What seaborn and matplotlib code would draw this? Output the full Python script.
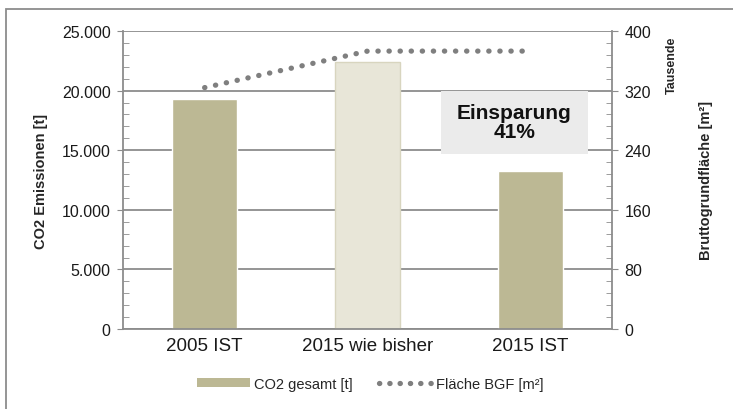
import matplotlib
matplotlib.use('Agg')
import matplotlib.pyplot as plt
import matplotlib.ticker as mticker
from matplotlib.patches import Patch, Rectangle
from matplotlib.lines import Line2D
import seaborn as sns
import pandas as pd

# values
categories = ['2005 IST', '2015 wie bisher', '2015 IST']
co2_total = [19300, 22400, 13250]          # t
bgf_area = [324, 373, 373]                 # Tausende m²
bar_colors = ['#bcb894', '#e8e6d8', '#bcb894']

sns.set_style('white')
plt.rcParams['font.family'] = ['Liberation Sans', 'DejaVu Sans']

df = pd.DataFrame({'Kategorie': categories, 'CO2': co2_total, 'BGF': bgf_area})

fig = plt.figure(figsize=(7.33, 4.10), dpi=100)
ax = fig.add_axes([0.168, 0.195, 0.667, 0.727])

sns.barplot(data=df, x='Kategorie', y='CO2', hue='Kategorie', palette=bar_colors,
            saturation=1, legend=False, width=0.4, ax=ax, zorder=2)
# light edge on the middle bar
ax.patches[1].set_edgecolor('#d8d5bf')
ax.patches[1].set_linewidth(1)

ax.set_xlim(-0.5, 2.5)
ax.set_ylim(0, 25000)
ax.yaxis.set_major_locator(mticker.MultipleLocator(5000))
ax.yaxis.set_minor_locator(mticker.MultipleLocator(1000))
ax.yaxis.set_major_formatter(mticker.FuncFormatter(lambda v, p: f'{int(v):,}'.replace(',', '.')))
ax.grid(axis='y', color='#8c8c8c', linewidth=1.3, zorder=0)
ax.set_axisbelow(True)
ax.set_xlabel('')
ax.set_ylabel('CO2 Emissionen [t]', fontsize=10.5, fontweight='bold', labelpad=10)
ax.tick_params(axis='x', labelsize=13.5, length=0, pad=6, colors='#1a1a1a')
ax.tick_params(axis='y', which='major', labelsize=11.5, direction='out', length=4, pad=5,
               color='#8c8c8c', labelcolor='#1a1a1a')
ax.tick_params(axis='y', which='minor', direction='in', length=4, color='#8c8c8c', left=True)
for side in ['top', 'right']:
    ax.spines[side].set_visible(False)
for side in ['left', 'bottom']:
    ax.spines[side].set_color('#8c8c8c')
    ax.spines[side].set_linewidth(1.3)

ax2 = ax.twinx()
sns.lineplot(x=[0, 1, 2], y=bgf_area, ax=ax2, color='#7f7f7f', linewidth=3.8,
             linestyle=(0, (0.05, 2.05)), dash_capstyle='round', zorder=3)
ax2.set_ylim(0, 400)
ax2.yaxis.set_major_locator(mticker.MultipleLocator(80))
ax2.yaxis.set_minor_locator(mticker.MultipleLocator(16))
ax2.set_ylabel('')
ax2.tick_params(axis='y', which='major', labelsize=11.5, direction='out', length=4, pad=5,
                color='#8c8c8c', labelcolor='#1a1a1a')
ax2.tick_params(axis='y', which='minor', direction='in', length=4, color='#8c8c8c', right=True)
for side in ['top', 'left', 'bottom']:
    ax2.spines[side].set_visible(False)
ax2.spines['right'].set_color('#8c8c8c')
ax2.spines['right'].set_linewidth(1.3)

fig.text(0.917, 0.84, 'Tausende', rotation=90, fontsize=9, fontweight='bold', ha='center', va='center')
fig.text(0.963, 0.56, 'Bruttogrundfläche [m²]', rotation=90, fontsize=10.5, fontweight='bold',
         ha='center', va='center')

# savings box
ax.add_patch(Rectangle((0.65, 0.587), 0.3, 0.212, transform=ax.transAxes,
                       facecolor='#ebebeb', edgecolor='none', zorder=4))
ax.text(0.80, 0.695, 'Einsparung\n41%', transform=ax.transAxes, ha='center', va='center',
        fontsize=15, fontweight='bold', color='#111111', zorder=5, linespacing=1.05)

handles = [Patch(facecolor='#bcb894', edgecolor='none'),
           Line2D([0], [0], color='#7f7f7f', linewidth=3.8, linestyle=(0, (0.05, 1.9)),
                  dash_capstyle='round')]
fig.legend(handles, ['CO2 gesamt [t]', 'Fläche BGF [m²]'], loc='center', ncol=2,
           bbox_to_anchor=(0.505, 0.062), frameon=False, fontsize=10.5, handlelength=3.6,
           handleheight=0.5, columnspacing=1.8, handletextpad=0.3)

# outer frame
fig.add_artist(Rectangle((0.008, -0.01), 1.0, 0.985, transform=fig.transFigure,
                         facecolor='none', edgecolor='#8c8c8c', linewidth=1.3))

fig.savefig('out.png', dpi=100)
